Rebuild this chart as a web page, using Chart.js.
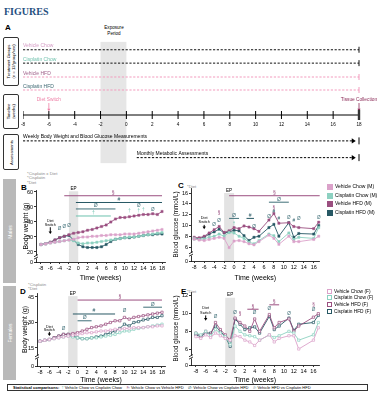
<!DOCTYPE html>
<html><head><meta charset="utf-8">
<script src="https://cdn.jsdelivr.net/npm/chart.js@4.4.1/dist/chart.umd.min.js"></script>
<style>
html,body{margin:0;padding:0;background:#fff}
body{width:382px;height:400px;position:relative;overflow:hidden;font-family:"Liberation Sans",Arial,sans-serif;color:#000}
.t{position:absolute;white-space:nowrap;line-height:1}
canvas{position:absolute}
.box{position:absolute;border:0.8px solid #333;border-radius:2px;box-sizing:border-box}
.rot{position:absolute;transform:rotate(-90deg);text-align:center;white-space:nowrap}
.lg{position:absolute;white-space:nowrap;line-height:1}
.lg i{display:inline-block;box-sizing:border-box;vertical-align:middle;margin-right:2px}
</style></head><body>
<div class="t" style="left:4px;top:6px;font:bold 10px 'Liberation Serif',serif;color:#1f4f7f">FIGURES</div>
<div class="t" style="left:5px;top:24px;font-weight:bold;font-size:8px">A</div>
<div class="t" style="left:98px;top:25px;width:32px;text-align:center;font-size:4.6px;line-height:5.5px">Exposure<br>Period</div>

<div class="box" style="left:3px;top:37px;width:16px;height:49px"></div>
<div class="rot" style="left:-13.5px;top:56px;width:49px;height:11px;font-size:4.2px;line-height:5px">Treatment Groups<br>(n = 12/group/sex)</div>
<div class="box" style="left:3px;top:94px;width:16px;height:35px"></div>
<div class="rot" style="left:-6.5px;top:106px;width:35px;height:11px;font-size:4.2px;line-height:5px">Timeline<br>(weeks)</div>
<div class="box" style="left:3px;top:134px;width:16px;height:36px"></div>
<div class="rot" style="left:-7px;top:149.5px;width:36px;height:5px;font-size:4.2px;line-height:5px">Assessments</div>

<div style="position:absolute;left:3px;top:179px;width:13px;height:104px;background:#b9b9b9"></div>
<div class="rot" style="left:-16.5px;top:228.5px;width:52px;height:6px;font-size:5px;line-height:6px;color:#fff">Males</div>
<div style="position:absolute;left:3px;top:286px;width:13px;height:94px;background:#b9b9b9"></div>
<div class="rot" style="left:-16.5px;top:330px;width:52px;height:6px;font-size:5px;line-height:6px;color:#fff">Females</div>

<div class="t" style="left:27px;top:172px;font-size:4.3px;color:#8a8a8a;line-height:4.3px">*Cisplatin x Diet<br>*Cisplatin<br>*Diet</div>
<div class="t" style="left:21px;top:184px;font-weight:bold;font-size:8px">B</div>
<div class="t" style="left:178px;top:182px;font-weight:bold;font-size:8px">C</div>
<div class="t" style="left:187px;top:185px;font-size:4.3px;color:#8a8a8a">*Diet</div>
<div class="t" style="left:28px;top:283px;font-size:4.3px;color:#8a8a8a;line-height:4.3px">*Cisplatin<br>*Diet</div>
<div class="t" style="left:20px;top:288px;font-weight:bold;font-size:8px">D</div>
<div class="t" style="left:181px;top:288px;font-weight:bold;font-size:8px">E</div>
<div class="t" style="left:187px;top:290px;font-size:4.3px;color:#8a8a8a">*Diet</div>

<canvas id="cA" width="382" height="135" style="left:0;top:35px"></canvas>
<canvas id="cB" width="154" height="104" style="left:18px;top:182px"></canvas>
<canvas id="cC" width="158" height="104" style="left:166px;top:182px"></canvas>
<canvas id="cD" width="154" height="100" style="left:18px;top:284px"></canvas>
<canvas id="cE" width="158" height="100" style="left:166px;top:284px"></canvas>

<div id="legM"></div>
<div id="legF"></div>

<div style="position:absolute;left:7px;top:384px;width:361px;height:7px;border:0.6px solid #333;box-sizing:border-box"></div>
<div class="t" style="left:13px;top:385.5px;font-size:4px">
<b>Statistical comparisons:</b>&nbsp;&nbsp;<span style="color:#6cc1ad">†</span> Vehicle Chow vs Cisplatin Chow&nbsp;&nbsp;&nbsp;&nbsp;<span style="color:#9b4f80">§</span>: Vehicle Chow vs Vehicle HFD&nbsp;&nbsp;&nbsp;&nbsp;<span style="color:#3f6f78">Ø</span>: Vehicle Chow vs Cisplatin HFD&nbsp;&nbsp;&nbsp;&nbsp;<span style="color:#285a66">#</span>: Vehicle HFD vs Cisplatin HFD</div>

<script>
const F = '"Liberation Sans", Arial, sans-serif';

// ---------- Panel A (study design) ----------
const aWeeks = [-8,-6,-4,-2,0,2,4,6,8,10,12,14,16,18];
const groupNames = ['Vehicle Chow','Cisplatin Chow','Vehicle HFD','Cisplatin HFD'];
const assessNames = ['Weekly Body Weight and Blood Glucose Measurements','Monthly Metabolic Assessments'];
const assessStart = [-8, 0.8];
const exposureWeeks = [-2, 0];
const dietSwitchWeek = -6;
const tissueWeek = 18;
// schematic rows (top to bottom)
const groupRows = [0.78, 1.85, 2.96, 4.0];
const timelineRows = [6.0, 6.74];
const eventRows = [4.78, 5.04, 5.7];
const assessRows = [8.07, 9.41];
const shadeRows = [0.15, 9.85];

// ---------- Body weight (g), weeks -8..18 ----------
const weeksBW = [-8,-7,-6,-5,-4,-3,-2,-1,0,1,2,3,4,5,6,7,8,9,10,11,12,13,14,15,16,17,18];
const bwVehicleChowM  = [25,25.5,26,26.5,27,27.5,28,28.5,29.5,30,30,30.5,30.5,31,31,31.5,31.5,31.5,32,32,32,32.5,33,33.5,34,34.5,35];
const bwCisplatinChowM= [25,25.5,26,26.5,27,27.5,28,27.5,26,25.5,26,26,26.5,27,27.5,28,28.5,29,29.5,30,30,30.5,31,31.5,32,32.5,33];
const bwVehicleHFDM   = [25,25.5,26.5,28,29.5,30.5,31.5,32.5,33,33.5,34.5,35,36,37,38,40,42,43,43,43.5,44,44.5,45,45,45.5,45,47];
const bwCisplatinHFDM = [25,25.5,26.5,28,29.5,30.5,31,28,25,23.5,23,23,23,23.5,25,27,28.5,29,29.5,29.5,30,30.5,31,31.5,31.5,32,32];
const bwVehicleChowF  = [19,19.5,20,20.5,21,21.5,22,22.5,23,23.5,24,24,24.5,25,25,25.5,26,26,26.5,26.5,27,27,27,27.5,27.5,28,28];
const bwCisplatinChowF= [19,19.5,20,20.5,21,21.5,22,21.5,21,20.5,20.5,21,21,21.5,22,22.5,23,24,25,25,26,26.5,27,27.5,28,28.5,29];
const bwVehicleHFDF   = [19,19.5,20,21,22,23,23,23.5,24,25,26,27,27.5,28,29,30,31,31,33,32,33,33.5,34,34.5,35,35.5,36];
const bwCisplatinHFDF = [19,19.5,20,21,22,23,23,22,21,20.5,20.5,21,21.5,22,23,24,25,26.5,29,28,30,30.5,31.5,32,33,33,34];

// ---------- Blood glucose (mmol/L) ----------
const weeksBG = [-8,-7,-6,-5,-4,-3,-2,-1,0,1,2,3,4,5,7,8,9,11,12,13,16,17];
const bgVehicleChowM  = [7.5,7.3,7.2,7.4,7.6,7.8,7.6,5.9,7.1,7.2,7.0,6.6,6.4,7.0,8.2,7.6,6.5,8.0,7.0,7.0,7.4,8.0];
const bgCisplatinChowM= [7.6,7.4,7.5,7.8,8.0,8.4,8.0,8.7,8.6,8.0,7.6,6.9,6.6,7.2,8.4,8.1,7.0,8.6,7.4,7.8,7.6,9.6];
const bgVehicleHFDM   = [7.8,7.7,8.0,8.6,9.2,9.8,8.7,9.0,9.6,9.4,9.9,9.7,9.4,8.9,11.0,12.2,10.4,10.5,9.8,9.6,9.4,10.6];
const bgCisplatinHFDM = [7.5,7.6,7.8,8.4,8.8,9.3,8.6,8.8,9.1,9.0,8.1,7.2,7.8,8.0,9.6,10.2,8.0,10.5,7.8,8.5,8.4,10.0];
const bgVehicleChowF  = [7.4,7.2,7.6,7.3,7.8,7.5,7.2,7.0,7.5,7.4,7.0,6.8,6.4,7.0,7.6,6.8,7.2,7.5,7.5,6.0,7.0,8.4];
const bgCisplatinChowF= [7.8,7.6,8.0,7.5,8.2,7.8,7.4,6.5,8.6,8.0,7.6,7.5,7.4,7.0,7.6,7.3,7.5,8.0,7.8,7.0,7.6,9.0];
const bgVehicleHFDF   = [7.8,7.5,8.0,7.6,9.0,8.2,7.6,7.0,9.5,9.0,8.6,8.0,9.4,8.0,9.9,8.4,9.0,9.4,8.0,8.6,9.6,10.0];
const bgCisplatinHFDF = [7.6,7.4,7.8,7.8,8.6,8.0,7.4,6.3,9.4,8.8,8.2,8.4,8.5,7.8,9.7,8.2,8.6,9.5,8.1,8.8,9.0,9.8];

// ---------- ticks ----------
const xTicksBW = [-8,-6,-4,-2,0,2,4,6,8,10,12,14,16,18];
const xTicksBG = [-8,-6,-4,-2,0,2,4,6,8,10,12,14,16];
const yTicksB = [20,30,40,50,60];
const yTicksC = [6,8,10,12,14,16];
const yTicksD = [15,30,45];
const yTicksE = [6,8,10,12];

// ---------- significance annotations [startWeek, endWeek, level, symbol] ----------
const sigB = [[-3,18,57.5,'§'],[-0.5,18,53,'#'],[-0.5,8,48.7,'Ø'],[-0.5,7,44,'†']];
const symB = [[-4,35.5,'Ø'],[-3,37,'Ø'],[-2,37.5,'Ø'],[11,47.5,'†'],[13,51,'Ø'],[13,47.5,'†'],[14,48,'†'],[16,48,'Ø']];
const sigC = [[-1,17.2,15.5,'§'],[-1,1,11.3,'Ø'],[2.5,4,11.3,'#'],[7,11,14.3,'Ø']];
const symC = [[-3,12.4,'§'],[-3,10.9,'Ø'],[-4,10.1,'Ø'],[0,10.3,'†'],[4,9.8,'Ø'],[7,11.7,'Ø'],[8,13.2,'§'],[8,12.6,'#'],[9,11.3,'#'],[11,11.5,'Ø'],[12,10.9,'#'],[13,11.2,'Ø'],[17,11.4,'Ø']];
const sigD = [[0,18,43.2,'§'],[-1,8,35,'#'],[0,3,31,'Ø'],[14,18,39,'Ø']];
const symD = [[-3,26.5,'Ø'],[10,37,'Ø']];
const sigE = [[2.5,4.8,10.5,'§'],[7,9,11,'§']];
const symE = [[-4,9.6,'Ø'],[0,10.1,'Ø'],[1,10.0,'§'],[4,10.1,'Ø'],[7,10.5,'Ø'],[11,10.0,'Ø'],[16,11.0,'§'],[16,10.4,'Ø']];
// diet switch label [week, line1, line2, arrowStart, arrowTip]
const dietB = [-6, 40.5, 38.3, 36.5, 32];
const dietC = [-6, 11.3, 10.6, 10.1, 9.3];
const dietD = [-6, 27.4, 25.8, 24.5, 22];
const dietE = [-6, 10.6, 10.1, 9.8, 9.2];

// ---------- styles ----------
const C_VC='#dba2ca', C_CC='#8dd1c1', C_VH='#9b4f80', C_CH='#275864';
const symColor = {'§':C_VH,'#':C_CH,'Ø':'#3f6f78','†':'#6cc1ad'};

// ================= Panel A =================
const panelA = {
  id:'panelA',
  beforeDatasetsDraw(chart){
    const {ctx,scales:{x,y}}=chart;
    const x1=x.getPixelForValue(exposureWeeks[0]), x2=x.getPixelForValue(exposureWeeks[1]);
    const y1=y.getPixelForValue(shadeRows[0]), y2=y.getPixelForValue(shadeRows[1]);
    ctx.save(); ctx.fillStyle='#e6e6e6'; ctx.fillRect(x1,y1,x2-x1,y2-y1); ctx.restore();
  },
  afterDatasetsDraw(chart){
    const {ctx,scales:{x,y}}=chart;
    ctx.save();
    const gTxt=['#d49bc4','#72c2ae','#a0628b','#3c6772'];
    const gLine=['#111','#111','#f29bbd','#f29bbd'];
    ctx.font='5px '+F; ctx.textAlign='left'; ctx.textBaseline='alphabetic';
    groupNames.forEach((n,i)=>{
      const py=y.getPixelForValue(groupRows[i]);
      ctx.fillStyle=gTxt[i]; ctx.fillText(n, x.getPixelForValue(-8), py-2.5);
      const px=x.getPixelForValue(18);
      ctx.strokeStyle=gLine[i]; ctx.lineWidth=1; ctx.beginPath(); ctx.moveTo(px,py-3); ctx.lineTo(px,py+3); ctx.stroke();
    });
    ctx.fillStyle='#000'; ctx.font='4.6px '+F; ctx.textAlign='center'; ctx.textBaseline='middle';
    aWeeks.forEach(w=>ctx.fillText(String(w), x.getPixelForValue(w), y.getPixelForValue(timelineRows[1])));
    const ev=(w,label,col)=>{
      const px=x.getPixelForValue(w);
      ctx.fillStyle=col; ctx.strokeStyle=col; ctx.font='4.8px '+F; ctx.textAlign='center'; ctx.textBaseline='middle';
      ctx.fillText(label, Math.min(px, 380-ctx.measureText(label).width/2), y.getPixelForValue(eventRows[0]));
      const a=y.getPixelForValue(eventRows[1]), b=y.getPixelForValue(eventRows[2]);
      ctx.lineWidth=0.8; ctx.beginPath(); ctx.moveTo(px,a); ctx.lineTo(px,b-2); ctx.stroke();
      ctx.beginPath(); ctx.moveTo(px-1.6,b-2.5); ctx.lineTo(px+1.6,b-2.5); ctx.lineTo(px,b); ctx.closePath(); ctx.fill();
    };
    ev(dietSwitchWeek,'Diet Switch','#ee7fa6');
    ev(tissueWeek,'Tissue Collection','#8b2a57');
    const pe=x.getPixelForValue(18), pt=y.getPixelForValue(timelineRows[0]);
    ctx.fillStyle='#333'; ctx.fillRect(pe-1.2,pt-5,2.4,10);
    assessNames.forEach((n,i)=>{
      const py=y.getPixelForValue(assessRows[i]);
      ctx.fillStyle='#000'; ctx.font='5px '+F; ctx.textAlign='left'; ctx.textBaseline='alphabetic';
      ctx.fillText(n, x.getPixelForValue(assessStart[i]), py-2.5);
      const pa=x.getPixelForValue(17.75);
      ctx.beginPath(); ctx.moveTo(pa-4,py-2.6); ctx.lineTo(pa,py); ctx.lineTo(pa-4,py+2.6); ctx.closePath(); ctx.fill();
      ctx.strokeStyle='#000'; ctx.lineWidth=1; ctx.beginPath(); ctx.moveTo(pe,py-3.5); ctx.lineTo(pe,py+3.5); ctx.stroke();
    });
    ctx.restore();
  }
};
const seg=(x1,x2,yv)=>[{x:x1,y:yv},{x:x2,y:yv}];
const aDatasets=[];
const gLineCol=['#111','#111','#f29bbd','#f29bbd'];
groupRows.forEach((r,i)=>aDatasets.push({data:seg(-8,18,r),borderColor:gLineCol[i],borderWidth:1,borderDash:[2.2,1.6],pointRadius:0}));
aDatasets.push({data:seg(-8,18,timelineRows[0]),borderColor:'#000',borderWidth:1,pointRadius:0});
aDatasets.push({data:aWeeks.map(w=>({x:w,y:timelineRows[0]})),showLine:false,pointStyle:'line',rotation:90,pointRadius:4,borderColor:'#000',pointBorderWidth:1});
assessRows.forEach((r,i)=>aDatasets.push({data:seg(assessStart[i],17.6,r),borderColor:'#000',borderWidth:1,borderDash:[2.2,1.6],pointRadius:0}));

new Chart(document.getElementById('cA'),{
  type:'line', data:{datasets:aDatasets},
  options:{responsive:false,animation:false,devicePixelRatio:1,
    layout:{padding:{left:23,right:23,top:0,bottom:0}},
    plugins:{legend:{display:false},tooltip:{enabled:false}},
    scales:{x:{type:'linear',display:false,min:-8,max:18},y:{type:'linear',display:false,min:0,max:10,reverse:true}}},
  plugins:[panelA]
});

// ================= Data panels =================
const annot = {
  id:'annot',
  beforeDatasetsDraw(chart,a,o){
    const {ctx,chartArea:ca,scales:{x,y}}=chart;
    const x1=x.getPixelForValue(o.shade[0]), x2=x.getPixelForValue(o.shade[1]);
    const yt=y.getPixelForValue(o.shade[2]);
    ctx.save(); ctx.fillStyle='#e3e3e3'; ctx.fillRect(x1,yt,x2-x1,ca.bottom-yt);
    ctx.fillStyle='#000'; ctx.font='4.6px '+F; ctx.textAlign='center'; ctx.textBaseline='bottom';
    ctx.fillText('EP',(x1+x2)/2,yt-0.3); ctx.restore();
  },
  afterDatasetsDraw(chart,a,o){
    const {ctx,chartArea:ca,scales:{x,y}}=chart;
    ctx.save();
    o.sig.forEach(([w1,w2,v,s])=>{
      const py=y.getPixelForValue(v), col=symColor[s];
      ctx.strokeStyle=col; ctx.lineWidth=1; ctx.beginPath();
      ctx.moveTo(x.getPixelForValue(w1),py); ctx.lineTo(x.getPixelForValue(w2),py); ctx.stroke();
      ctx.fillStyle=col; ctx.font='5px '+F; ctx.textAlign='center'; ctx.textBaseline='bottom';
      ctx.fillText(s, x.getPixelForValue((w1+w2)/2), py-0.5);
    });
    o.sym.forEach(([w,v,s])=>{
      ctx.fillStyle=symColor[s]; ctx.font='4.6px '+F; ctx.textAlign='center'; ctx.textBaseline='middle';
      ctx.fillText(s, x.getPixelForValue(w), y.getPixelForValue(v));
    });
    const [dw,l1,l2,a1,a2]=o.diet, px=x.getPixelForValue(dw);
    ctx.fillStyle='#000'; ctx.font='3.8px '+F; ctx.textAlign='center'; ctx.textBaseline='middle';
    ctx.fillText('Diet',px,y.getPixelForValue(l1)); ctx.fillText('Switch',px,y.getPixelForValue(l2));
    const pa=y.getPixelForValue(a1), pb=y.getPixelForValue(a2);
    ctx.strokeStyle='#000'; ctx.lineWidth=1; ctx.beginPath(); ctx.moveTo(px,pa); ctx.lineTo(px,pb-2); ctx.stroke();
    ctx.beginPath(); ctx.moveTo(px-1.7,pb-2.6); ctx.lineTo(px+1.7,pb-2.6); ctx.lineTo(px,pb); ctx.closePath(); ctx.fill();
    const bx=ca.left, by=y.getPixelForValue(o.brk);
    ctx.fillStyle='#fff'; ctx.fillRect(bx-2.5,by-1.5,5,3);
    ctx.strokeStyle='#000'; ctx.lineWidth=0.8;
    ctx.beginPath(); ctx.moveTo(bx-2,by-0.2); ctx.lineTo(bx+2,by-2.4); ctx.moveTo(bx-2,by+2.2); ctx.lineTo(bx+2,by); ctx.stroke();
    ctx.restore();
  }
};

function ser(xs, ys, col, female){
  return {data:xs.map((x,i)=>({x,y:ys[i]})), borderColor:col, borderWidth:0.9,
    backgroundColor: female?'#fff':col, pointBackgroundColor: female?'#fff':col, pointBorderColor:col,
    pointStyle:'rect', pointRadius:1.6, pointBorderWidth: female?0.7:0.4, tension:0, clip:false};
}

function panel(id, c){
  const tickFont={size:5.5,family:F};
  new Chart(document.getElementById(id),{
    type:'line', data:{datasets:c.datasets},
    options:{responsive:false,animation:false,devicePixelRatio:1,
      layout:{padding:{top:c.padTop,right:c.padRight,left:0,bottom:0}},
      plugins:{legend:{display:false},tooltip:{enabled:false},annot:c.annot},
      scales:{
        x:{type:'linear',min:c.xr[0],max:c.xr[1],
          afterBuildTicks:s=>{s.ticks=c.xticks.map(v=>({value:v}));},
          afterFit:s=>{s.height=c.xh;},
          ticks:{font:tickFont,color:'#000',padding:1.5,maxRotation:0,autoSkip:false},
          grid:{drawOnChartArea:false,drawTicks:true,tickLength:2,color:'#000',lineWidth:0.8},
          border:{display:true,color:'#000',width:0.8},
          title:{display:true,text:'Time (weeks)',color:'#000',font:{size:7,family:F,lineHeight:1.2},padding:{top:0,bottom:c.xtPad}}},
        y:{type:'linear',min:c.yr[0],max:c.yr[1],
          afterBuildTicks:s=>{s.ticks=[{value:c.yr[0]}].concat(c.yticks.map(v=>({value:v})));},
          afterFit:s=>{s.width=c.yw;},
          ticks:{font:tickFont,color:'#000',padding:1,autoSkip:false,
            callback:v=>Math.abs(v-c.yr[0])<1e-6?'0':String(v)},
          grid:{drawOnChartArea:false,drawTicks:true,tickLength:2,color:'#000',lineWidth:0.8},
          border:{display:true,color:'#000',width:0.8},
          title:{display:true,text:c.ytitle,color:'#000',font:{size:c.ytSize,family:F,lineHeight:1},padding:{top:c.ytPad,bottom:0}}}
      }},
    plugins:[annot]
  });
}

panel('cB',{padTop:8,padRight:7,yw:18,xh:24,xtPad:4,ytPad:5,ytSize:6.8,ytitle:'Body weight (g)',
  xr:[-9.07,18.64],yr:[13.33,61.33],xticks:xTicksBW,yticks:yTicksB,
  datasets:[ser(weeksBW,bwVehicleChowM,C_VC,false),ser(weeksBW,bwCisplatinChowM,C_CC,false),ser(weeksBW,bwVehicleHFDM,C_VH,false),ser(weeksBW,bwCisplatinHFDM,C_CH,false)],
  annot:{shade:[-2,0,60.5],sig:sigB,sym:symB,diet:dietB,brk:16.7}});
panel('cC',{padTop:6,padRight:2,yw:25,xh:25,xtPad:4,ytPad:7.5,ytSize:6.3,ytitle:'Blood glucose (mmol/L)',
  xr:[-8.65,17.18],yr:[3.41,16.93],xticks:xTicksBG,yticks:yTicksC,
  datasets:[ser(weeksBG,bgVehicleChowM,C_VC,false),ser(weeksBG,bgCisplatinChowM,C_CC,false),ser(weeksBG,bgVehicleHFDM,C_VH,false),ser(weeksBG,bgCisplatinHFDM,C_CH,false)],
  annot:{shade:[-2,0,16],sig:sigC,sym:symC,diet:dietC,brk:4.7}});
panel('cD',{padTop:9,padRight:7,yw:19,xh:18,xtPad:0,ytPad:4,ytSize:6.8,ytitle:'Body weight (g)',
  xr:[-8.64,18.64],yr:[4.41,47.35],xticks:xTicksBW,yticks:yTicksD,
  datasets:[ser(weeksBW,bwVehicleChowF,C_VC,true),ser(weeksBW,bwCisplatinChowF,C_CC,true),ser(weeksBW,bwVehicleHFDF,C_VH,true),ser(weeksBW,bwCisplatinHFDF,C_CH,true)],
  annot:{shade:[-2,0,45.5],sig:sigD,sym:symD,diet:dietD,brk:9.7}});
panel('cE',{padTop:8,padRight:2,yw:25,xh:19,xtPad:0,ytPad:7.5,ytSize:6.3,ytitle:'Blood glucose (mmol/L)',
  xr:[-9,17.2],yr:[4.19,12.45],xticks:xTicksBG,yticks:yTicksE,
  datasets:[ser(weeksBG,bgVehicleChowF,C_VC,true),ser(weeksBG,bgCisplatinChowF,C_CC,true),ser(weeksBG,bgVehicleHFDF,C_VH,true),ser(weeksBG,bgCisplatinHFDF,C_CH,true)],
  annot:{shade:[-2,0,11.8],sig:sigE,sym:symE,diet:dietE,brk:5.1}});

// ---------- legends ----------
const legNames=['Vehicle Chow','Cisplatin Chow','Vehicle HFD','Cisplatin HFD'];
const legCols=[C_VC,C_CC,C_VH,C_CH];
function legend(id, suffix, top, step, female, size, sq){
  const el=document.getElementById(id);
  legNames.forEach((n,i)=>{
    const d=document.createElement('div'); d.className='lg';
    d.style.left='327px'; d.style.top=(top+i*step)+'px'; d.style.fontSize=size+'px';
    d.innerHTML='<i style="width:'+sq+'px;height:'+sq+'px;border:1px solid '+legCols[i]+';background:'+(female?'#fff':legCols[i])+'"></i>'+n+' ('+suffix+')';
    el.appendChild(d);
  });
}
legend('legM','M',184,8.6,false,5,6);
legend('legF','F',288.5,6.7,true,4.8,5);
</script>
</body></html>
